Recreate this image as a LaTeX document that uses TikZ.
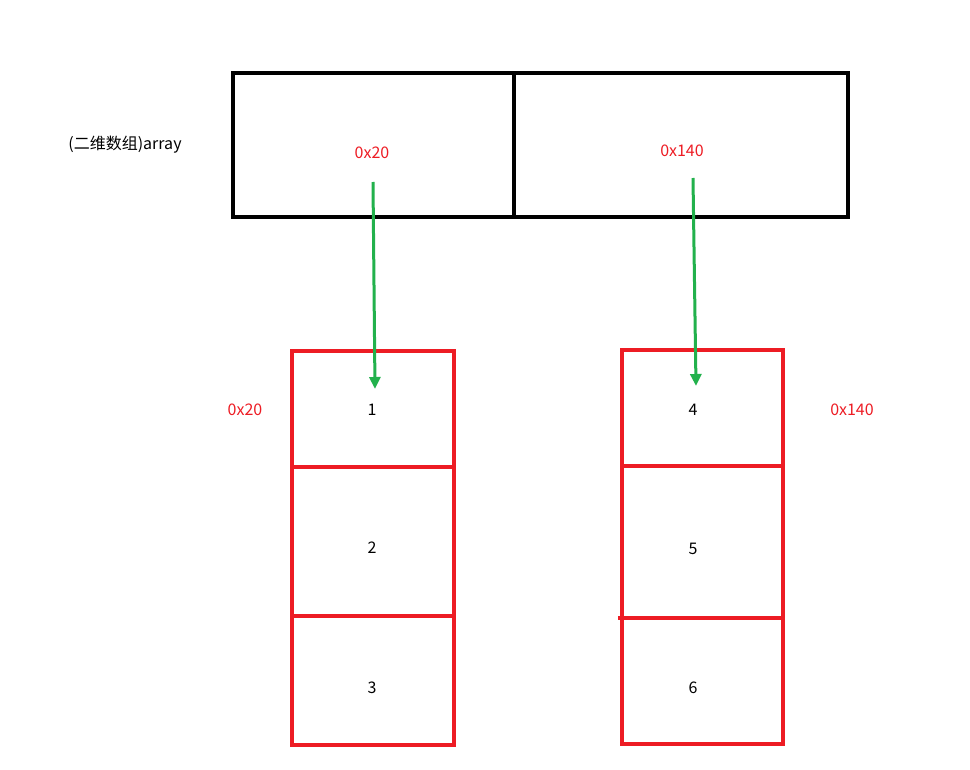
\documentclass[tikz,border=0pt]{standalone}
\usepackage{fontspec}
\setmainfont{Noto Sans CJK SC}
\definecolor{myred}{RGB}{237,28,36}
\definecolor{mygreen}{RGB}{34,177,76}
\usetikzlibrary{arrows.meta}
\begin{document}
\begin{tikzpicture}[x=1pt,y=-1pt,
  blk/.style={draw=black,line width=3.5pt},
  rbox/.style={draw=myred,line width=3.5pt},
  rt/.style={text=myred,font=\fontsize{16}{18}\selectfont},
  bt/.style={font=\fontsize{16}{18}\selectfont},
  arr/.style={draw=mygreen,line width=3pt,-{Triangle[length=12pt,width=11pt]}}]
\useasboundingbox (0,0) rectangle (970,770);
\draw[blk] (233,73) rectangle (848,217);
\draw[blk] (514,73) -- (514,217);
\node[bt] (lab) at (125,145) {(二维数组)array};
\node[rt] (p1) at (372,153) {0x20};
\node[rt] (p2) at (682,151) {0x140};
\coordinate (a1s) at (373,182); \coordinate (a1e) at (375,389);
\coordinate (a2s) at (693,178); \coordinate (a2e) at (696,386);
\draw[rbox] (292,351) rectangle (454,745);
\draw[rbox] (292,467) -- (456,467);
\draw[rbox] (292,616) -- (454,616);
\draw[rbox] (622,350) rectangle (783,744);
\draw[rbox] (622,466) -- (783,466);
\draw[rbox] (618,618) -- (783,618);
\draw[arr] (a1s) -- (a1e);
\draw[arr] (a2s) -- (a2e);
\node[bt] (n1) at (372,410) {1};
\node[bt] (n2) at (372,548) {2};
\node[bt] (n3) at (372,688) {3};
\node[bt] (n4) at (693,410) {4};
\node[bt] (n5) at (693,549) {5};
\node[bt] (n6) at (693,688) {6};
\node[rt] (l1) at (245,410) {0x20};
\node[rt] (l2) at (852,410) {0x140};
\end{tikzpicture}
\end{document}
